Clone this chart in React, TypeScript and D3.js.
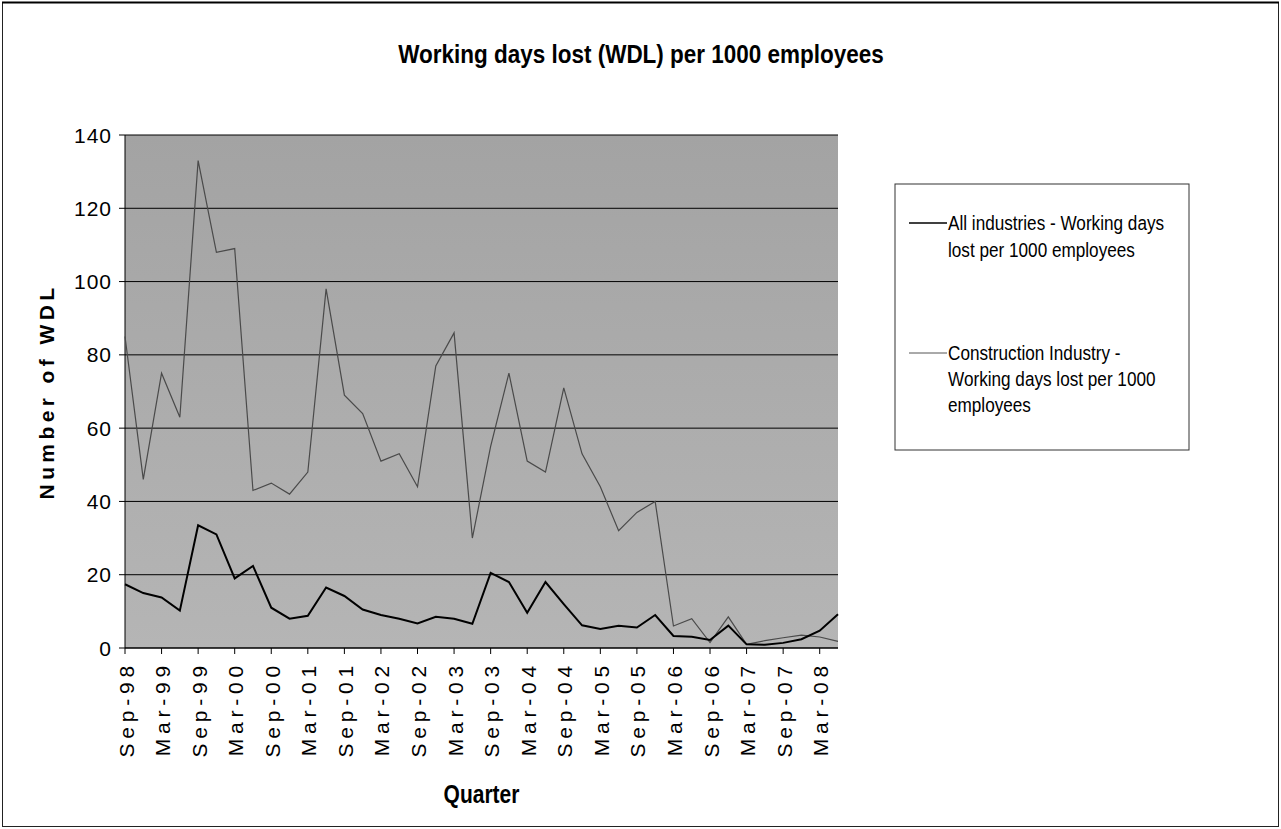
import React from "react";
import * as d3 from "d3";

const quarters = [
  "Sep-98","Dec-98","Mar-99","Jun-99","Sep-99","Dec-99","Mar-00","Jun-00",
  "Sep-00","Dec-00","Mar-01","Jun-01","Sep-01","Dec-01","Mar-02","Jun-02",
  "Sep-02","Dec-02","Mar-03","Jun-03","Sep-03","Dec-03","Mar-04","Jun-04",
  "Sep-04","Dec-04","Mar-05","Jun-05","Sep-05","Dec-05","Mar-06","Jun-06",
  "Sep-06","Dec-06","Mar-07","Jun-07","Sep-07","Dec-07","Mar-08","Jun-08",
];

const allIndustries = [
  17.4, 15, 13.8, 10.2, 33.5, 31, 19, 22.4,
  11, 8, 8.8, 16.5, 14.2, 10.5, 9, 8,
  6.7, 8.5, 8, 6.6, 20.5, 18, 9.6, 18,
  12, 6.2, 5.2, 6.1, 5.6, 9, 3.3, 3.1,
  2.2, 6.1, 1, 0.9, 1.4, 2.4, 4.7, 9.2,
];

const construction = [
  85, 46, 75, 63, 133, 108, 109, 43,
  45, 42, 48, 98, 69, 64, 51, 53,
  44, 77, 86, 30, 55, 75, 51, 48,
  71, 53, 44, 32, 37, 40, 6, 8,
  1.5, 8.5, 1, 2, 2.8, 3.5, 3, 1.8,
];

const yTicks = [0, 20, 40, 60, 80, 100, 120, 140];
const xLabelEvery = 2;

const W = 1281;
const H = 829;
const plot = { left: 125, right: 838, top: 135, bottom: 648 };

export default function App() {
  const x = d3.scalePoint<string>().domain(quarters).range([plot.left, plot.right]);
  const y = d3.scaleLinear().domain([0, 140]).range([plot.bottom, plot.top]);
  const line = d3
    .line<number>()
    .x((_, i) => x(quarters[i]) as number)
    .y((d) => y(d));

  const tickQuarters = quarters.filter((_, i) => i % xLabelEvery === 0);
  const sans = "'Liberation Sans', Arial, sans-serif";

  return (
    <svg
      width={W}
      height={H}
      style={{ position: "absolute", left: 0, top: 0, background: "#fff" }}
    >
      <rect x={0} y={0} width={W} height={H} fill="#fff" />
      <rect x={2.5} y={2.5} width={W - 5} height={H - 5} fill="none" stroke="#222" strokeWidth={1} />
      <line x1={2} x2={W - 2} y1={2.5} y2={2.5} stroke="#000" strokeWidth={2} />

      <g transform="translate(641,63) scale(0.865,1)">
        <text
          x={0}
          y={0}
          textAnchor="middle"
          fontFamily={sans}
          fontWeight="bold"
          fontSize={26}
          fill="#000"
        >
          Working days lost (WDL) per 1000 employees
        </text>
      </g>

      <defs>
        <linearGradient id="bg" x1="0" y1="0" x2="0" y2="1">
          <stop offset="0%" stopColor="#a3a3a3" />
          <stop offset="100%" stopColor="#b5b5b5" />
        </linearGradient>
      </defs>
      <rect
        x={plot.left}
        y={plot.top}
        width={plot.right - plot.left}
        height={plot.bottom - plot.top}
        fill="url(#bg)"
      />

      {yTicks.map((t) => (
        <g key={t}>
          <line x1={plot.left} x2={plot.right} y1={y(t)} y2={y(t)} stroke="#000" strokeWidth={1} />
          <line x1={plot.left - 6} x2={plot.left} y1={y(t)} y2={y(t)} stroke="#000" strokeWidth={1} />
          <text
            x={112}
            y={y(t)}
            textAnchor="end"
            dominantBaseline="central"
            fontFamily={sans}
            fontSize={21}
            letterSpacing={1}
            fill="#000"
          >
            {t}
          </text>
        </g>
      ))}

      <line x1={plot.left} x2={plot.left} y1={plot.top} y2={plot.bottom} stroke="#000" strokeWidth={1} />
      <line x1={plot.left} x2={plot.right} y1={plot.bottom} y2={plot.bottom} stroke="#000" strokeWidth={1} />

      {tickQuarters.map((q) => {
        const px = x(q) as number;
        return (
          <g key={q}>
            <line x1={px} x2={px} y1={plot.bottom} y2={plot.bottom + 6} stroke="#000" strokeWidth={1} />
            <text
              transform={`translate(${px + 1},${661}) rotate(-90)`}
              textAnchor="end"
              dominantBaseline="central"
              fontFamily={sans}
              fontSize={21}
              letterSpacing={4.8}
              fill="#000"
            >
              {q}
            </text>
          </g>
        );
      })}

      <path d={line(construction) ?? ""} fill="none" stroke="#4a4a4a" strokeWidth={1.2} />
      <path d={line(allIndustries) ?? ""} fill="none" stroke="#000" strokeWidth={2} />

      <text
        transform={`translate(46,${(plot.top + plot.bottom) / 2}) rotate(-90)`}
        textAnchor="middle"
        dominantBaseline="central"
        fontFamily={sans}
        fontWeight="bold"
        fontSize={21}
        letterSpacing={4.4}
        fill="#000"
      >
        Number of WDL
      </text>

      <g transform={`translate(${(plot.left + plot.right) / 2},803) scale(0.84,1)`}>
        <text
          x={0}
          y={0}
          textAnchor="middle"
          fontFamily={sans}
          fontWeight="bold"
          fontSize={25}
          fill="#000"
        >
          Quarter
        </text>
      </g>

      <rect x={895} y={184} width={294} height={266} fill="#fff" stroke="#333" strokeWidth={1} />
      <line x1={909} x2={947} y1={223} y2={223} stroke="#000" strokeWidth={1.5} />
      <g transform="translate(948,0) scale(0.88,1)">
        <text fontFamily={sans} fontSize={19.5} fill="#000">
          <tspan x={0} y={230}>All industries - Working days</tspan>
          <tspan x={0} y={257}>lost per 1000 employees</tspan>
        </text>
      </g>
      <line x1={909} x2={947} y1={353} y2={353} stroke="#555" strokeWidth={1} />
      <g transform="translate(948,0) scale(0.88,1)">
        <text fontFamily={sans} fontSize={19.5} fill="#000">
          <tspan x={0} y={360}>Construction Industry -</tspan>
          <tspan x={0} y={386}>Working days lost per 1000</tspan>
          <tspan x={0} y={412}>employees</tspan>
        </text>
      </g>
    </svg>
  );
}
